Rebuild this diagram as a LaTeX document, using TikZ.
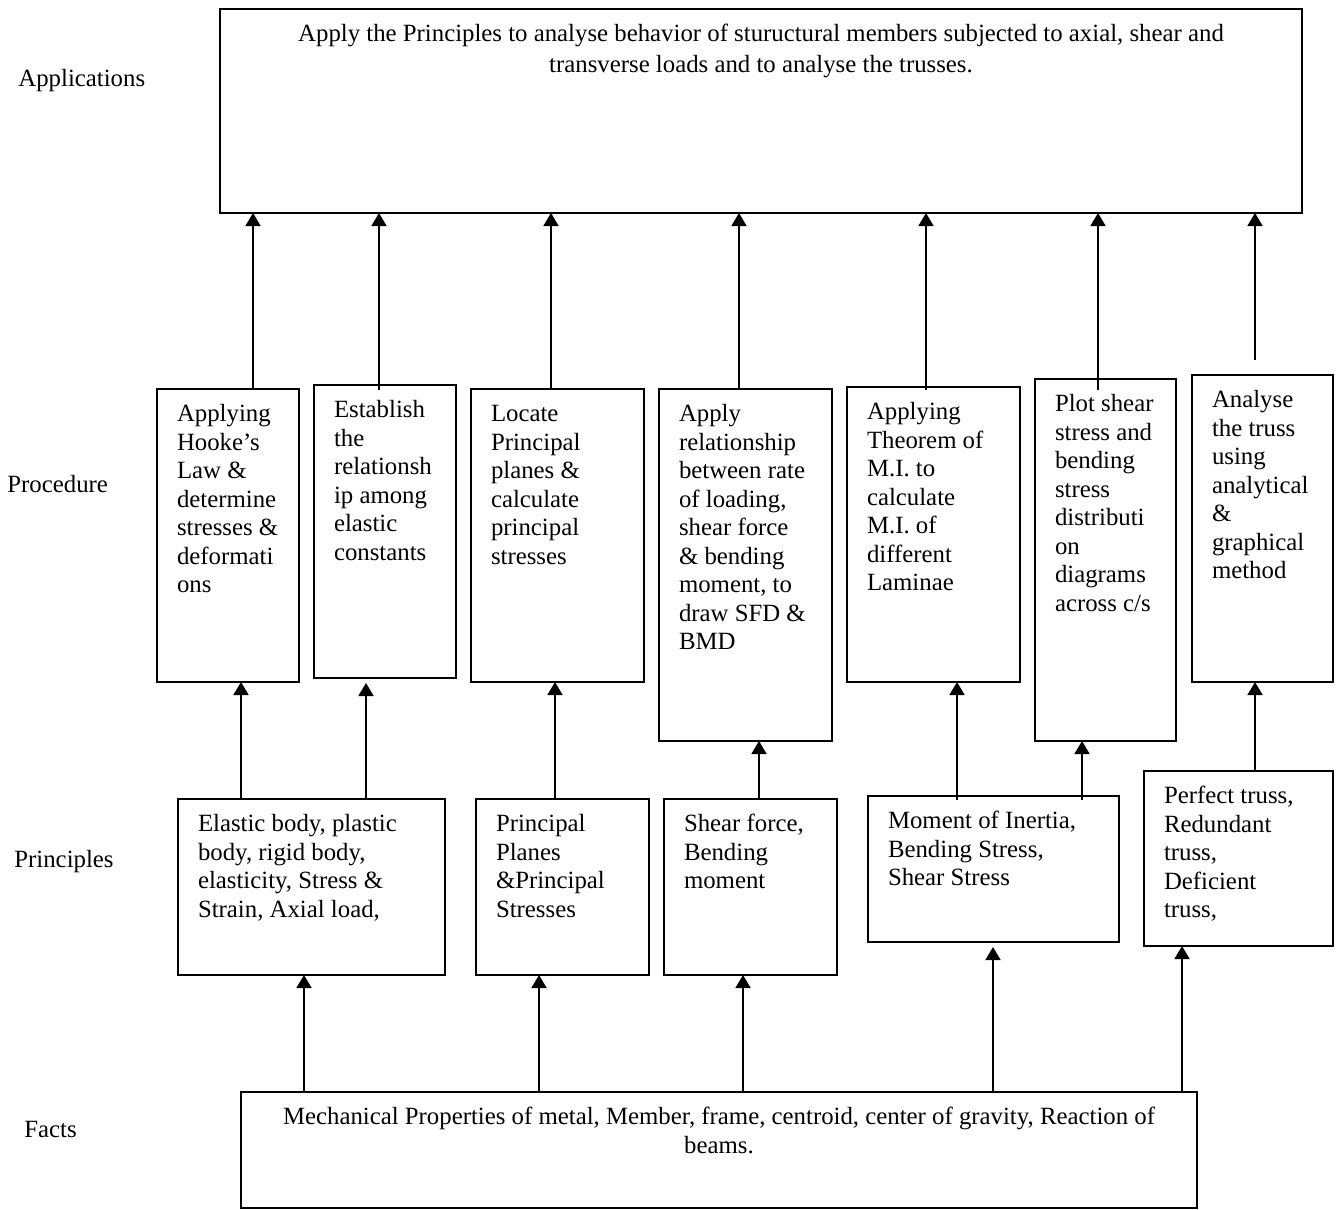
\documentclass[tikz,border=0pt]{standalone}
\usepackage{fontspec}
\setmainfont{Liberation Serif}
\usetikzlibrary{arrows.meta}

\newdimen\unitpx \unitpx=0.5pt
\newcommand{\boxtext}[3]{\parbox[t][\dimexpr#2\unitpx-13pt\relax][t]{\dimexpr#1\unitpx-20pt\relax}{\strut#3}}

\tikzset{
	stage/.style={draw, line width=0.8pt, anchor=north west, inner xsep=10pt, inner ysep=6.5pt, outer sep=0pt},
	level/.style={anchor=base west, inner sep=0pt},
	link/.style={-{Triangle[length=6.5pt,width=7.5pt]}, line width=0.8pt}
}

\begin{document}
\begin{tikzpicture}[x=0.5pt, y=-0.5pt, font=\fontsize{12.4pt}{14.25pt}\selectfont]
\useasboundingbox (0,0) rectangle (1336,1209);

% levels
\node[level] (tapp) at (18,87) {Applications};
\node[level] (tproc) at (7,492) {Procedure};
\node[level] (tprin) at (14,867) {Principles};
\node[level] (tfact) at (24,1137) {Facts};

% applications
\node[stage] (app) at (220,9) {\boxtext{1082}{204}{\centering Apply the Principles to analyse behavior of stuructural members subjected to axial, shear and\\[1.25pt] transverse loads and to analyse the trusses.}};

% procedure
\node[stage] (pr1) at (157,389) {\boxtext{142}{293}{Applying\\Hooke's\\Law \&\\determine\\stresses \&\\deformati\\ons}};
\node[stage] (pr2) at (314,385) {\boxtext{142}{293}{Establish\\the\\relationsh\\ip among\\elastic\\constants}};
\node[stage] (pr3) at (471,389) {\boxtext{173}{293}{Locate\\Principal\\planes \&\\calculate\\principal\\stresses}};
\node[stage] (pr4) at (659,389) {\boxtext{173}{352}{Apply\\relationship\\between rate\\of loading,\\shear force\\\& bending\\moment, to\\draw SFD \&\\BMD}};
\node[stage] (pr5) at (847,387) {\boxtext{173}{295}{Applying\\Theorem of\\M.I. to\\calculate\\M.I. of\\different\\Laminae}};
\node[stage] (pr6) at (1035,379) {\boxtext{141}{362}{Plot shear\\stress and\\bending\\stress\\distributi\\on\\diagrams\\across c/s}};
\node[stage] (pr7) at (1192,375) {\boxtext{141}{307}{Analyse\\the truss\\using\\analytical\\\&\\graphical\\method}};

% principles
\node[stage] (pc1) at (178,799) {\boxtext{267}{176}{Elastic body, plastic\\body, rigid body,\\elasticity, Stress \&\\Strain, Axial load,}};
\node[stage] (pc2) at (476,799) {\boxtext{173}{176}{Principal\\Planes\\\&Principal\\Stresses}};
\node[stage] (pc3) at (664,799) {\boxtext{173}{176}{Shear force,\\Bending\\moment}};
\node[stage] (pc4) at (868,796) {\boxtext{251}{146}{Moment of Inertia,\\Bending Stress,\\Shear Stress}};
\node[stage] (pc5) at (1144,771) {\boxtext{189}{175}{Perfect truss,\\Redundant\\truss,\\Deficient\\truss,}};

% facts
\node[stage] (fact) at (241,1092) {\boxtext{956}{116}{\centering Mechanical Properties of metal, Member, frame, centroid, center of gravity, Reaction of\\beams.}};

% procedure -> applications
\foreach \x/\a/\s in {253/pr1/0pt, 379/pr2/-2.5pt, 551/pr3/0pt, 739/pr4/0pt, 926/pr5/-1.5pt, 1098/pr6/-5.5pt}
	\draw[link, shorten <=\s] (\x,0 |- \a.north) -- (\x,0 |- app.south);
\coordinate (free) at (1255,360);
\draw[link] (free) -- (free |- app.south);

% principles -> procedure
\foreach \x/\a/\b/\s/\e in {241/pc1/pr1/0pt/0pt, 366/pc1/pr2/0pt/2.5pt, 555/pc2/pr3/0pt/0pt, 759/pc3/pr4/0pt/0pt, 957/pc4/pr5/-2pt/0pt, 1082/pc4/pr6/-2pt/0pt, 1255/pc5/pr7/0pt/0pt}
	\draw[link, shorten <=\s, shorten >=\e] (\x,0 |- \a.north) -- (\x,0 |- \b.south);

% facts -> principles
\foreach \x/\b/\e in {304/pc1/0pt, 539/pc2/0pt, 743/pc3/0pt, 993/pc4/2.5pt, 1182/pc5/0pt}
	\draw[link, shorten >=\e] (\x,0 |- fact.north) -- (\x,0 |- \b.south);
\end{tikzpicture}
\end{document}
